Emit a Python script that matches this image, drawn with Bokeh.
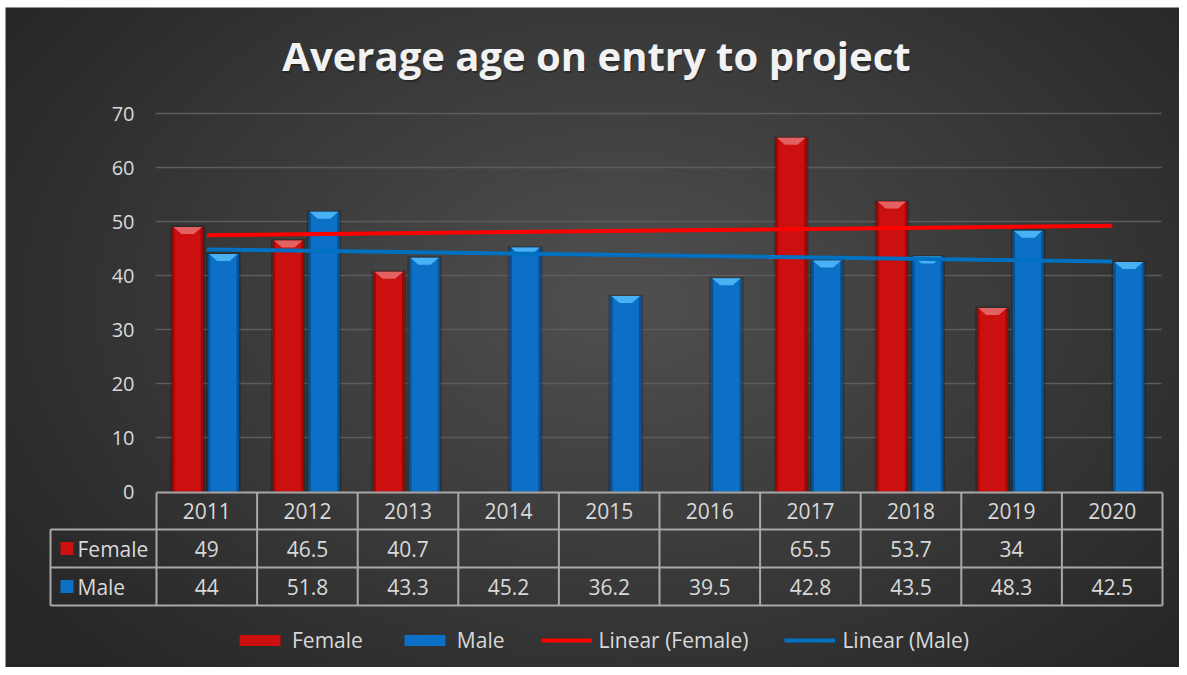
import numpy as np
from bokeh.plotting import figure
from bokeh.models import Range1d, Legend, LegendItem
from bokeh.core.properties import value
from bokeh.embed import file_html
from bokeh.resources import INLINE

# ---------------- data ----------------
years = ["2011", "2012", "2013", "2014", "2015", "2016", "2017", "2018", "2019", "2020"]
female = [49, 46.5, 40.7, None, None, None, 65.5, 53.7, 34, None]
male = [44, 51.8, 43.3, 45.2, 36.2, 39.5, 42.8, 43.5, 48.3, 42.5]
y_ticks = [0, 10, 20, 30, 40, 50, 60, 70]
title_text = "Average age on entry to project"
series_names = ["Female", "Male"]

# ---------------- layout helpers (pixel -> data units) ----------------
W, H = 1179, 667
COL0 = 156       # left edge of first category column
COLW = 100.6     # category width in px
Y0 = 491         # pixel row of value 0
PXU = 5.4        # px per value unit


def dx(px):
    return (px - COL0) / COLW - 0.5


def dy(py):
    return (Y0 - py) / PXU


FONT = value("Open Sans")
TXT = "#d9d9d9"

p = figure(width=W, height=H, output_backend="svg", toolbar_location=None,
           x_range=Range1d(dx(0), dx(W)), y_range=Range1d(dy(H), dy(0)),
           min_border=0, x_axis_location=None, y_axis_location=None)
p.grid.visible = False
p.outline_line_color = None
p.background_fill_color = "#ffffff"
p.border_fill_color = "#ffffff"

# ---------------- background radial gradient ----------------
BX0, BY0 = 5, 7
bw, bh = W - BX0, H - BY0
ny, nx = bh // 2, bw // 2
yy, xx = np.mgrid[0:ny, 0:nx]
px = xx * 2 + BX0
py = (ny - 1 - yy) * 2 + BY0
t = np.sqrt(((px - 620) / 760.0) ** 2 + ((py - 300) / 520.0) ** 2)
t = np.clip(t, 0, 1)
g = (80 - 42 * t).astype(np.uint32)
img = (255 << 24) | (g << 16) | (g << 8) | g
p.image_rgba(image=[img.astype(np.uint32)], x=dx(BX0), y=dy(H),
             dw=dx(W) - dx(BX0), dh=dy(BY0) - dy(H))

# ---------------- title ----------------
p.text(x=[dx(597)], y=[dy(57)], text=[title_text], text_font=FONT, text_font_style="bold",
       text_font_size="40px", text_color="#000000", text_alpha=0.3, text_align="center",
       text_baseline="middle")
p.text(x=[dx(596)], y=[dy(55)], text=[title_text], text_font=FONT, text_font_style="bold",
       text_font_size="40px", text_color="#f2f2f2", text_align="center", text_baseline="middle")

# ---------------- y axis labels and gridlines ----------------
p.text(x=[dx(134)] * len(y_ticks), y=y_ticks, text=[str(v) for v in y_ticks], text_font=FONT,
       text_font_size="20px", text_color=TXT, text_align="right", text_baseline="middle")
gt = [v for v in y_ticks if v > 0]
p.segment(x0=[dx(155)] * len(gt), x1=[dx(1161)] * len(gt), y0=gt, y1=gt,
          line_color="#5c5c5c", line_width=1.5)

# ---------------- bars ----------------
BW = 0.31
styles = {
    "Female": dict(off=-0.19, base="#a00606", mid="#cc1010", cap="#e87070", vals=female),
    "Male": dict(off=0.165, base="#08529a", mid="#0b70c6", cap="#52bcfa", vals=male),
}
bar_renderers = {}
for name in series_names:
    s = styles[name]
    xs = [i + s["off"] for i, v in enumerate(s["vals"]) if v is not None]
    vs = [v for v in s["vals"] if v is not None]
    p.vbar(x=xs, top=[v + 0.25 for v in vs], bottom=0, width=BW + 0.035,
           fill_color="#000000", fill_alpha=0.22, line_color=None)
    r1 = p.vbar(x=xs, top=vs, bottom=0, width=BW, fill_color=s["base"], line_color=None)
    r2 = p.vbar(x=xs, top=vs, bottom=0, width=BW * 0.84, fill_color=s["mid"], line_color=None)
    cap_x = [[x - BW / 2 * 0.92, x + BW / 2 * 0.92, x + BW / 2 * 0.4, x - BW / 2 * 0.4] for x in xs]
    cap_y = [[v, v, v - 1.3, v - 1.3] for v in vs]
    p.patches(xs=cap_x, ys=cap_y, fill_color=s["cap"], fill_alpha=0.85, line_color=None)
    bar_renderers[name] = [r1, r2]

# ---------------- linear trend lines ----------------
trend_colors = {"Female": "#ff0000", "Male": "#0070c0"}
trend_renderers = {}
for name in series_names:
    vals = styles[name]["vals"]
    idx = np.array([i + 1 for i, v in enumerate(vals) if v is not None], dtype=float)
    vv = np.array([v for v in vals if v is not None], dtype=float)
    k, b = np.polyfit(idx, vv, 1)
    x_end = [0, len(years) - 1]
    y_end = [k * 1 + b, k * len(years) + b]
    trend_renderers[name] = p.line(x=x_end, y=y_end, line_color=trend_colors[name], line_width=4)

# ---------------- data table ----------------
BORDER = "#a8a8a8"
n = len(years)
col_edges = [COL0 + COLW * k for k in range(n + 1)]
row_top, row1, row2, row3 = 492, 529, 567, 605
p.segment(x0=[dx(COL0)], x1=[dx(col_edges[-1])], y0=[dy(row_top)], y1=[dy(row_top)],
          line_color=BORDER, line_width=2)
p.segment(x0=[dx(50)] * 3, x1=[dx(col_edges[-1])] * 3, y0=[dy(row1), dy(row2), dy(row3)],
          y1=[dy(row1), dy(row2), dy(row3)], line_color=BORDER, line_width=2)
p.segment(x0=[dx(c) for c in col_edges], x1=[dx(c) for c in col_edges],
          y0=[dy(row_top)] * (n + 1), y1=[dy(row3)] * (n + 1), line_color=BORDER, line_width=2)
p.segment(x0=[dx(50)], x1=[dx(50)], y0=[dy(row1)], y1=[dy(row3)], line_color=BORDER, line_width=2)

cx = list(range(n))
TS = "21px"
p.text(x=cx, y=[dy((row_top + row1) / 2)] * n, text=years, text_font=FONT, text_font_size=TS,
       text_color=TXT, text_align="center", text_baseline="middle")
p.text(x=cx, y=[dy((row1 + row2) / 2)] * n, text=["" if v is None else f"{v:g}" for v in female],
       text_font=FONT, text_font_size=TS, text_color=TXT, text_align="center", text_baseline="middle")
p.text(x=cx, y=[dy((row2 + row3) / 2)] * n, text=[f"{v:g}" for v in male],
       text_font=FONT, text_font_size=TS, text_color=TXT, text_align="center", text_baseline="middle")

row_ys = [dy((row1 + row2) / 2), dy((row2 + row3) / 2)]
p.rect(x=[dx(66.5)] * 2, y=row_ys, width=13, height=13, width_units="screen", height_units="screen",
       fill_color=[styles[nm]["mid"] for nm in series_names], line_color=None)
p.text(x=[dx(77)] * 2, y=row_ys, text=series_names, text_font=FONT, text_font_size=TS,
       text_color=TXT, text_align="left", text_baseline="middle")

# ---------------- legend ----------------
legend = Legend(items=[
    LegendItem(label="Female", renderers=bar_renderers["Female"]),
    LegendItem(label="Male", renderers=bar_renderers["Male"]),
    LegendItem(label="Linear (Female)", renderers=[trend_renderers["Female"]]),
    LegendItem(label="Linear (Male)", renderers=[trend_renderers["Male"]]),
], location=(234, 13), orientation="horizontal")
legend.background_fill_alpha = 0
legend.border_line_color = None
legend.padding = 0
legend.margin = 0
legend.spacing = 36
legend.glyph_width = 51
legend.glyph_height = 14
legend.label_standoff = 7
legend.label_text_font = "Open Sans"
legend.label_text_font_size = "21px"
legend.label_text_color = TXT
p.add_layout(legend)

open("out.html", "w").write(file_html(p, INLINE))
